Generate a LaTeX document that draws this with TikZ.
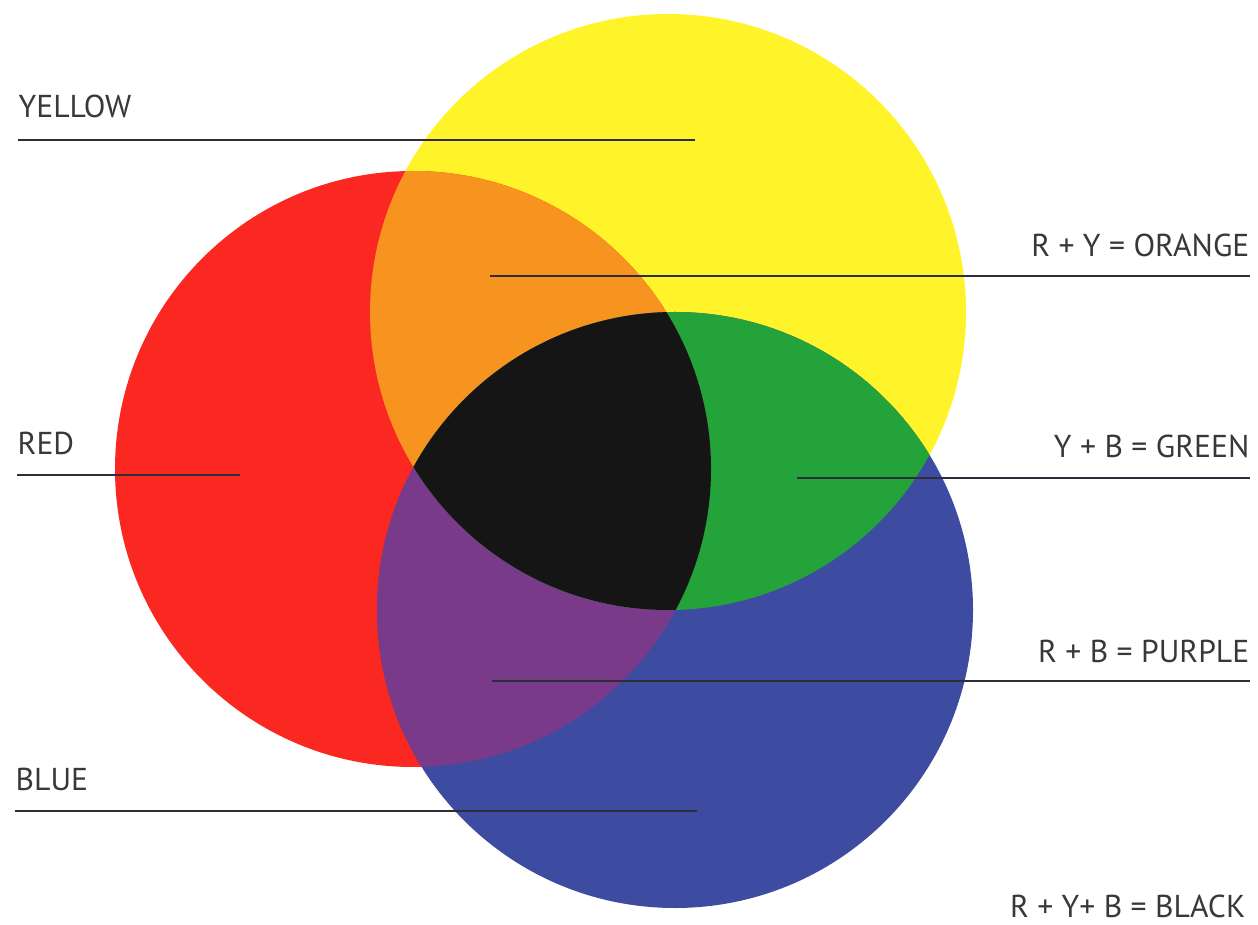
\documentclass[tikz,border=0pt]{standalone}
\usepackage{fontspec}
\setmainfont{PT Sans}
\usetikzlibrary{positioning}
\definecolor{cyellow}{RGB}{255,244,42}
\definecolor{cred}{RGB}{250,40,32}
\definecolor{cblue}{RGB}{61,76,160}
\definecolor{corange}{RGB}{247,147,31}
\definecolor{cgreen}{RGB}{35,163,58}
\definecolor{cpurple}{RGB}{122,58,138}
\definecolor{cblack}{RGB}{21,21,21}
\definecolor{labgray}{RGB}{56,56,60}
\definecolor{leadgray}{RGB}{46,46,58}
\tikzset{
  lab/.style={font=\fontsize{9}{11}\selectfont,text=labgray,inner sep=0pt},
  llab/.style={lab,anchor=base west},
  rlab/.style={lab,anchor=base east},
  leader/.style={leadgray,line width=0.8pt},
}
\begin{document}
\begin{tikzpicture}[x=0.01cm,y=-0.01cm]
      \useasboundingbox (0,0) rectangle (1258,925);
      \fill[cyellow] (668,312) circle (298); \fill[cred] (413,469) circle (298); \fill[cblue] (675,610) circle (298);
      \begin{scope} \clip (413,469) circle (298); \fill[corange] (668,312) circle (298); \fill[cpurple] (675,610) circle (298); \end{scope}
      \begin{scope} \clip (668,312) circle (298); \fill[cgreen] (675,610) circle (298); \end{scope}
      \begin{scope} \clip (413,469) circle (298); \clip (668,312) circle (298); \fill[cblack] (675,610) circle (298); \end{scope}
      \coordinate (ydot) at (695,140); \coordinate (odot) at (490,276); \coordinate (rdot) at (240,475);
      \coordinate (gdot) at (797,478); \coordinate (pdot) at (492,681); \coordinate (bdot) at (697,811);
      \node[llab] (ylab) at (18,118) {YELLOW}; \node[llab] (rlab) at (17,455) {RED}; \node[llab] (blab) at (15,790) {BLUE};
      \node[rlab] (olab) at (1250,257) {R + Y = ORANGE}; \node[rlab] (glab) at (1250,458) {Y + B = GREEN};
      \node[rlab] (plab) at (1250,662) {R + B = PURPLE}; \node[rlab] (klab) at (1246,917) {R + Y+ B = BLACK};
      \draw[leader] (ylab.west |- ydot) -- (ydot); \draw[leader] (rlab.west |- rdot) -- (rdot); \draw[leader] (blab.west |- bdot) -- (bdot);
      \draw[leader] (odot) -- (olab.east |- odot); \draw[leader] (gdot) -- (glab.east |- gdot); \draw[leader] (pdot) -- (plab.east |- pdot);
    \end{tikzpicture}
\end{document}
